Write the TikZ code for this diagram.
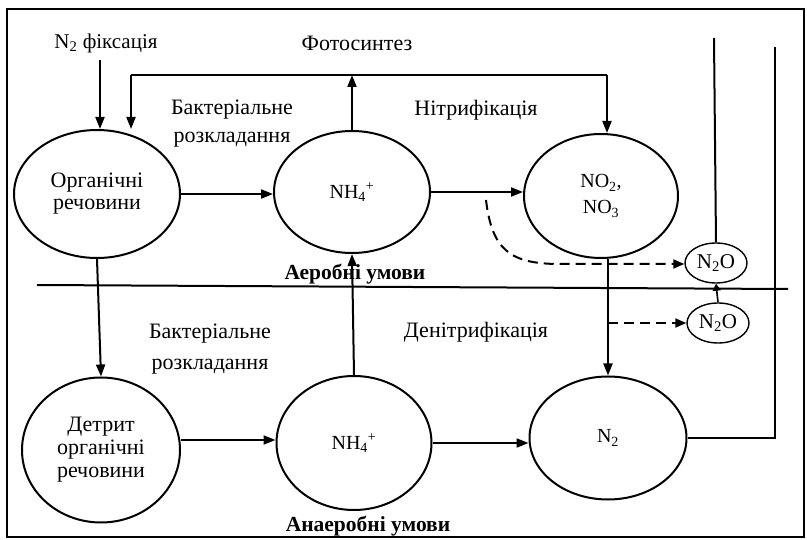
\documentclass[tikz,border=0pt]{standalone}
\usepackage{fontspec}
\setmainfont{Liberation Serif}
\usetikzlibrary{shapes.geometric,arrows.meta}
\tikzset{
  ell/.style={draw,ellipse,line width=2pt,inner sep=0pt,align=center,font=\fontsize{22}{22}\selectfont},
  sm/.style={draw,ellipse,line width=1.4pt,inner sep=0pt,minimum width=62pt,minimum height=40pt,font=\fontsize{21}{22}\selectfont},
  lbl/.style={align=center,font=\fontsize{22}{28}\selectfont,inner sep=0pt},
  bl/.style={font=\bfseries\fontsize{21.5}{22}\selectfont,inner sep=0pt},
  ln/.style={line width=2pt},
  arr/.style={line width=2pt,-{Triangle[length=12pt,width=9pt]}},
  dsh/.style={line width=2pt,dash pattern=on 10pt off 6pt,-{Triangle[length=11pt,width=9pt]}}
}
\begin{document}
\begin{tikzpicture}[x=1pt,y=-1pt]
\useasboundingbox (0,0) rectangle (807,540);
\draw[line width=1.4pt] (7,9) rectangle (804,537);
% ellipses
\node[ell,minimum width=166pt,minimum height=128pt] (org) at (97,194) {Органічні\\речовини};
\node[ell,minimum width=156pt,minimum height=122pt,font=\fontsize{20}{22}\selectfont] (nh4a) at (352,192) {NH\textsubscript{4}\textsuperscript{+}};
\node[ell,minimum width=154pt,minimum height=124pt,font=\fontsize{20}{26}\selectfont] (no) at (601,196) {NO\textsubscript{2},\\NO\textsubscript{3}};
\node[sm] (n2oa) at (716,263) {N\textsubscript{2}O};
\node[sm] (n2ob) at (718,323) {N\textsubscript{2}O};
\node[ell,minimum width=158pt,minimum height=145pt,font=\fontsize{22}{23}\selectfont] (det) at (101,450) {Детрит\\органічні\\речовини};
\node[ell,minimum width=155pt,minimum height=134pt,font=\fontsize{20}{22}\selectfont] (nh4b) at (354,443) {NH\textsubscript{4}\textsuperscript{+}};
\node[ell,minimum width=157pt,minimum height=123pt,font=\fontsize{20}{22}\selectfont] (n2) at (608,438) {N\textsubscript{2}};
% labels
\node[lbl,font=\fontsize{21}{22}\selectfont] (fix) at (106,43) {N\textsubscript{2} фіксація};
\node[lbl] (foto) at (357,43) {Фотосинтез};
\node[lbl] (bak1) at (232,124) {Бактеріальне\\розкладання};
\node[lbl] (nitr) at (476,110) {Нітрифікація};
\node[lbl,font=\fontsize{22}{31}\selectfont] (bak2) at (210,349) {Бактеріальне\\розкладання};
\node[lbl] (denitr) at (476,332) {Денітрифікація};
\node[bl] (aer) at (355,274) {Аеробні умови};
\node[bl] (anaer) at (368,526) {Анаеробні умови};
% divider
\coordinate (dl) at (37,285);
\coordinate (dr) at (788,289);
\draw[ln] (dl) -- (dr);
% coordinates
\coordinate (fixs) at (100,60);
\coordinate (fixe) at (100,129);
\coordinate (tl) at (131,75);
\coordinate (tr) at (607,75);
\coordinate (tle) at (131,129);
\coordinate (vtop) at (714,38);
\coordinate (rtop) at (775,47);
\coordinate (rbot) at (775,442);
\coordinate (ds) at (486,200);
\coordinate (dm) at (560,264);
% connectors
\draw[arr] (fixs) -- (fixe);
\draw[ln] (tl) -- (tr);
\draw[arr] (tl) -- (tle);
\draw[arr] (tr) -- (no.north -| tr);
\draw[arr] (nh4a.north) -- (nh4a.north |- tl);
\draw[arr] (org.east) -- (org.east -| nh4a.west);
\draw[arr] (nh4a.east) -- (nh4a.east -| no.west);
\draw[arr] (org.south) -- (det.north);
\draw[arr] ([yshift=10pt]det.east) -- ([yshift=10pt]det.east -| nh4b.west);
\draw[arr] (nh4b.east) -- (nh4b.east -| n2.west);
\draw[arr] (nh4b.north) -- (nh4a.south);
\draw[arr] (n2.north |- no.south) -- (n2.north);
\draw[dsh] (n2.north |- n2ob.west) -- (n2ob.west);
\draw[dsh] (ds) .. controls (492,250) and (510,264) .. (dm) -- (dm -| n2oa.west);
\draw[line width=1.6pt,-{Triangle[length=7pt,width=8pt]}] (n2ob.north) -- (n2oa.south);
\draw[ln] (n2oa.north) -- (vtop);
\draw[ln] (n2.east) -- (n2.east -| rbot) -- (rtop);
\end{tikzpicture}
\end{document}
